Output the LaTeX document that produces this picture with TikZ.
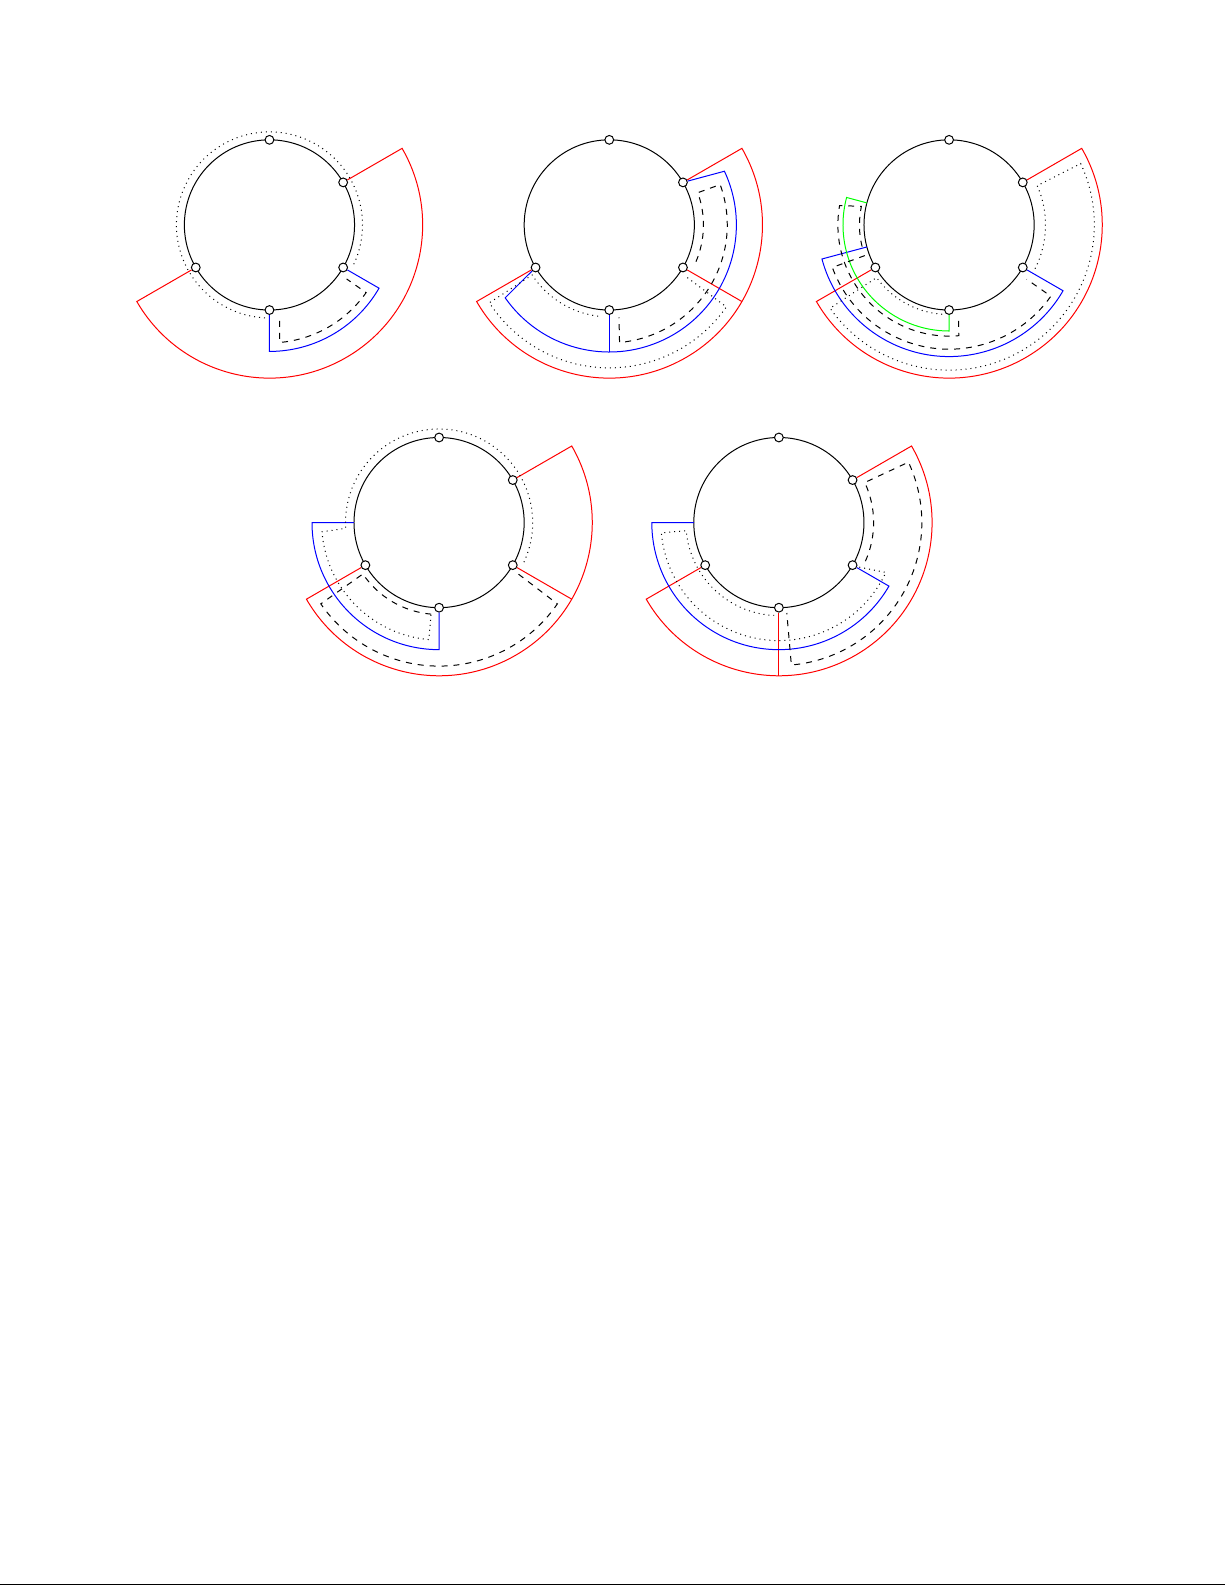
\documentclass[tikz,border=0pt]{standalone}
\usetikzlibrary{calc}

\begin{document}
\begin{tikzpicture}[line width=0.5pt,
  vtx/.style={circle, draw=black, fill=white, inner sep=0pt, minimum size=4.4pt}]
  \useasboundingbox (0,0) rectangle (21.59,-27.94);
  \fill (0,-27.94) rectangle (21.59,-27.915);

  \coordinate (C1) at (4.75,-3.965);
  \coordinate (C2) at (10.74,-3.965);
  \coordinate (C3) at (16.73,-3.965);
  \coordinate (C4) at (7.74,-9.212);
  \coordinate (C5) at (13.73,-9.212);

  \begin{scope}[shift={(C1)}]
    \draw (0,0) circle (1.5);
    \node[vtx] (T1) at (90:1.5) {};
    \node[vtx] (NE1) at (30:1.5) {};
    \node[vtx] (SE1) at (-30:1.5) {};
    \node[vtx] (S1) at (-90:1.5) {};
    \node[vtx] (SW1) at (210:1.5) {};
    \draw[red] (NE1) -- (30:2.7) arc[start angle=30, end angle=-150, radius=2.7] -- (SW1);
    \draw[blue] (S1) -- (-90:2.23) arc[start angle=-90, end angle=-30, radius=2.23] -- (SE1);
    \draw[dashed] (-84:1.7) -- (-85:2.08) arc[start angle=-85, end angle=-35, radius=2.08] -- (-35:1.66);
    \draw[dotted] (-25:1.64) arc[start angle=-25, end angle=268, radius=1.64];
  \end{scope}

  \begin{scope}[shift={(C2)}]
    \draw (0,0) circle (1.5);
    \node[vtx] (T2) at (90:1.5) {};
    \node[vtx] (NE2) at (30:1.5) {};
    \node[vtx] (SE2) at (-30:1.5) {};
    \node[vtx] (S2) at (-90:1.5) {};
    \node[vtx] (SW2) at (210:1.5) {};
    \draw[red] (NE2) -- (30:2.7) arc[start angle=30, end angle=-150, radius=2.7] -- (SW2);
    \draw[red] (SE2) -- (-30:2.7);
    \draw[blue] (NE2) -- (25:2.24) arc[start angle=25, end angle=-145, radius=2.24] -- (SW2);
    \draw[blue] (S2) -- (-90:2.24);
    \draw[dashed] (-23:1.66) arc[start angle=-23, end angle=20, radius=1.66] -- (20:2.08) arc[start angle=20, end angle=-85, radius=2.08] -- (-84:1.64);
    \draw[dotted] (-34:1.66) -- (-35:2.52) arc[start angle=-35, end angle=-147, radius=2.52] -- (213:1.62) arc[start angle=213, end angle=265, radius=1.62];
  \end{scope}

  \begin{scope}[shift={(C3)}]
    \draw (0,0) circle (1.5);
    \node[vtx] (T3) at (90:1.5) {};
    \node[vtx] (NE3) at (30:1.5) {};
    \node[vtx] (SE3) at (-30:1.5) {};
    \node[vtx] (S3) at (-90:1.5) {};
    \node[vtx] (SW3) at (210:1.5) {};
    \draw[red] (NE3) -- (30:2.7) arc[start angle=30, end angle=-150, radius=2.7] -- (SW3);
    \draw[blue] (195:1.5) -- (195:2.32) arc[start angle=195, end angle=330, radius=2.32] -- (SE3);
    \draw[green] (165:1.5) -- (165:1.87) arc[start angle=165, end angle=270, radius=1.87] -- (S3);
    \draw[dashed] (194:1.58) arc[start angle=194, end angle=168, radius=1.58] -- (170:1.96) arc[start angle=170, end angle=275, radius=1.96] -- (276:1.6);
    \draw[dashed] (200:1.58) -- (200:2.19) arc[start angle=200, end angle=325, radius=2.19] -- (325:1.67);
    \draw[dotted] (-27:1.7) arc[start angle=-27, end angle=24, radius=1.7] -- (25:2.56) arc[start angle=25, end angle=-145, radius=2.56] -- (216:1.58) arc[start angle=216, end angle=268, radius=1.58];
  \end{scope}

  \begin{scope}[shift={(C4)}]
    \draw (0,0) circle (1.5);
    \node[vtx] (T4) at (90:1.5) {};
    \node[vtx] (NE4) at (30:1.5) {};
    \node[vtx] (SE4) at (-30:1.5) {};
    \node[vtx] (S4) at (-90:1.5) {};
    \node[vtx] (SW4) at (210:1.5) {};
    \draw[red] (NE4) -- (30:2.7) arc[start angle=30, end angle=-150, radius=2.7] -- (SW4);
    \draw[red] (SE4) -- (-30:2.7);
    \draw[blue] (180:1.5) -- (180:2.24) arc[start angle=180, end angle=270, radius=2.24] -- (S4);
    \draw[dotted] (-25:1.65) arc[start angle=-25, end angle=183.5, radius=1.65] -- (184.5:2.07) arc[start angle=184.5, end angle=265, radius=2.07] -- (265:1.63);
    \draw[dashed] (-33:1.67) -- (-34.5:2.53) arc[start angle=-34.5, end angle=-145.5, radius=2.53] -- (214:1.62) arc[start angle=214, end angle=265, radius=1.62];
  \end{scope}

  \begin{scope}[shift={(C5)}]
    \draw (0,0) circle (1.5);
    \node[vtx] (T5) at (90:1.5) {};
    \node[vtx] (NE5) at (30:1.5) {};
    \node[vtx] (SE5) at (-30:1.5) {};
    \node[vtx] (S5) at (-90:1.5) {};
    \node[vtx] (SW5) at (210:1.5) {};
    \draw[red] (NE5) -- (30:2.7) arc[start angle=30, end angle=-150, radius=2.7] -- (SW5);
    \draw[red] (S5) -- (-90:2.7);
    \draw[blue] (180:1.5) -- (180:2.24) arc[start angle=180, end angle=330, radius=2.24] -- (SE5);
    \draw[dashed] (-24:1.67) arc[start angle=-24, end angle=25, radius=1.67] -- (25:2.52) arc[start angle=25, end angle=-85, radius=2.52] -- (-85:1.6);
    \draw[dotted] (-29:1.62) -- (-25:2.08) arc[start angle=-25, end angle=-175, radius=2.08] -- (185:1.64) arc[start angle=185, end angle=267, radius=1.64];
  \end{scope}
\end{tikzpicture}
\end{document}
